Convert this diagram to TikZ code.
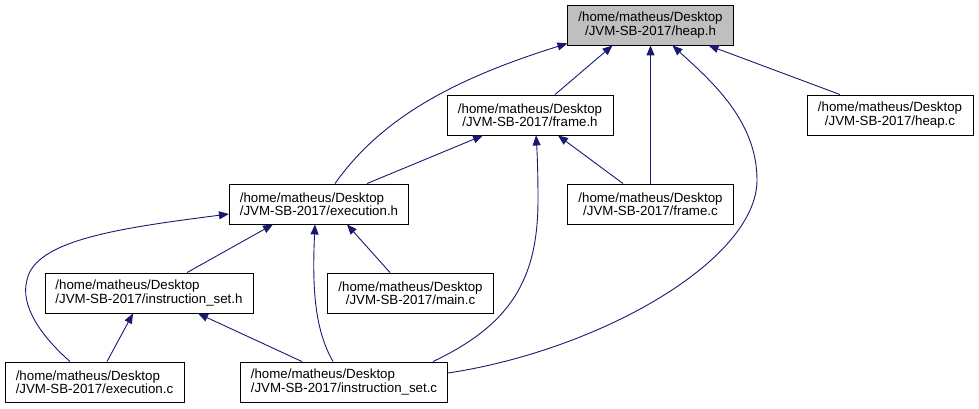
\documentclass[tikz,border=0pt]{standalone}
\usepackage{fontspec}
\setmainfont{Liberation Sans}
\usetikzlibrary{arrows.meta}
\definecolor{edgeblue}{HTML}{191970}
\definecolor{rootgray}{HTML}{BFBFBF}

\begin{document}
\begin{tikzpicture}[x=1pt,y=-1pt,
	file/.style={draw=black, line width=0.9pt, fill=white, minimum height=40pt, inner xsep=10.5pt, inner ysep=0pt, font=\fontsize{13.3}{13.4}\selectfont},
	filec/.style={file, align=center, minimum width=#1},
	filel/.style={file, align=left, minimum width=#1},
	dep/.style={draw=edgeblue, line width=0.9pt, -{Triangle[length=10pt,width=8pt]}}]

	\useasboundingbox (0,0) rectangle (979,409);

% 1. headers
\node[filec=165pt, fill=rootgray] (heaph) at (650.5,25) {/home/matheus/Desktop\\/JVM-SB-2017/heap.h};
\node[filec=166pt] (frameh) at (530,115) {/home/matheus/Desktop\\/JVM-SB-2017/frame.h};
\node[filel=178pt] (exech) at (319,204) {/home/matheus/Desktop\\/JVM-SB-2017/execution.h};
\node[filel=206pt] (instrh) at (149,293) {/home/matheus/Desktop\\/JVM-SB-2017/instruction\_set.h};

% 2. sources
\node[filec=166pt] (heapc) at (890,115) {/home/matheus/Desktop\\/JVM-SB-2017/heap.c};
\node[filec=165pt] (framec) at (650.5,204) {/home/matheus/Desktop\\/JVM-SB-2017/frame.c};
\node[filec=165pt] (mainc) at (410.5,293) {/home/matheus/Desktop\\/JVM-SB-2017/main.c};
\node[filel=179pt] (execc) at (94.5,382) {/home/matheus/Desktop\\/JVM-SB-2017/execution.c};
\node[filel=206pt] (instrc) at (344,382) {/home/matheus/Desktop\\/JVM-SB-2017/instruction\_set.c};

% 3. who includes heap.h
\draw[dep] ([xshift=25pt]frameh.north) -- ([xshift=-38pt]heaph.south);
\draw[dep] ([xshift=-50pt]heapc.north) -- ([xshift=58pt]heaph.south);
\draw[dep] (framec.north) -- (heaph.south);
\draw[dep] ([xshift=16pt]exech.north) .. controls (380,120) and (450,80) .. ([yshift=2pt]heaph.south west);
\draw[dep] ([yshift=9pt]instrc.east) .. controls (600,350) and (757,260) .. (757,180) .. controls (757,120) and (710,80) .. ([xshift=22pt]heaph.south);

% 4. who includes frame.h
\draw[dep] ([xshift=48pt]exech.north) -- ([xshift=-47pt]frameh.south);
\draw[dep] ([xshift=-27.5pt]framec.north) -- ([xshift=28pt]frameh.south);
\draw[dep] ([xshift=89pt]instrc.north) .. controls (510,325) and (538,280) .. (538,200) .. controls (538,170) and (537,150) .. ([xshift=6pt]frameh.south);

% 5. who includes execution.h
\draw[dep] ([xshift=-24.5pt]execc.north) .. controls (40,335) and (20,305) .. (27,280) .. controls (35,240) and (120,228) .. ([yshift=-10pt]exech.west);
\draw[dep] ([xshift=38pt]instrh.north) -- ([xshift=-46pt]exech.south);
\draw[dep] ([xshift=-11pt]instrc.north) .. controls (315,330) and (312,290) .. ([xshift=-4pt]exech.south);
\draw[dep] ([xshift=-20.5pt]mainc.north) -- ([xshift=28pt]exech.south);

% 6. who includes instruction_set.h
\draw[dep] ([xshift=12.5pt]execc.north) -- ([xshift=-16pt]instrh.south);
\draw[dep] ([xshift=-42pt]instrc.north) -- ([xshift=49pt]instrh.south);

\end{tikzpicture}
\end{document}
